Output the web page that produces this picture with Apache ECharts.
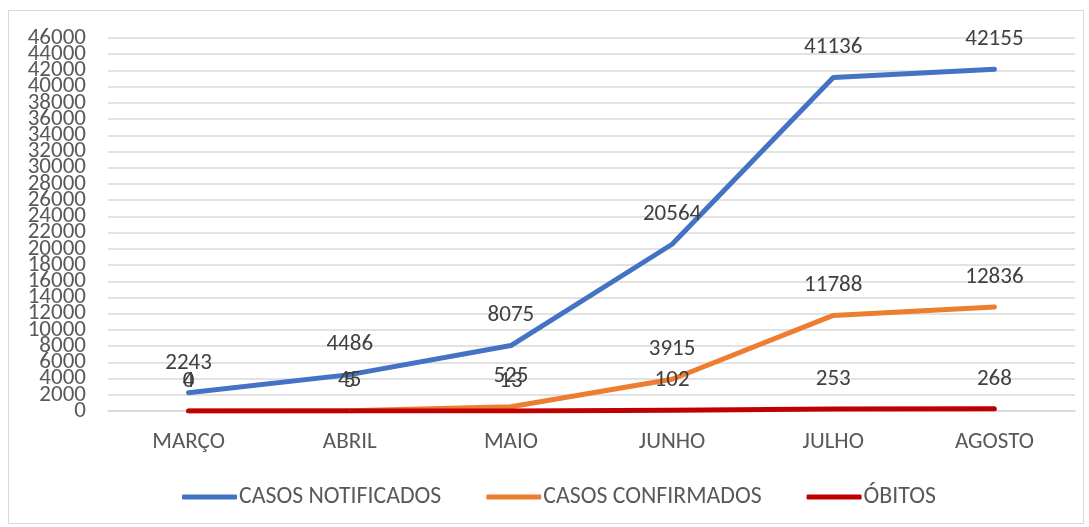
<!DOCTYPE html>
<html><head><meta charset="utf-8">
<script src="https://cdn.jsdelivr.net/npm/echarts@6/dist/echarts.min.js"></script>
<style>
html,body{margin:0;padding:0;background:#fff;}
#frame{position:absolute;left:8px;top:10px;width:1076px;height:514px;border:1px solid #d9d9d9;box-sizing:border-box;}
#c{position:absolute;left:0;top:0;width:1089px;height:527px;}
</style></head>
<body><div id="frame"></div><div id="c"></div>
<script>
const categories = ['MARÇO','ABRIL','MAIO','JUNHO','JULHO','AGOSTO'];
const notificados = [2243, 4486, 8075, 20564, 41136, 42155];
const confirmados = [4, 45, 525, 3915, 11788, 12836];
const obitos = [0, 5, 13, 102, 253, 268];
const seriesNames = ['CASOS NOTIFICADOS','CASOS CONFIRMADOS','ÓBITOS'];
const yMin = 0, yMax = 46000, yStep = 2000;

const FONT = "Carlito, 'Liberation Sans Narrow', 'Liberation Sans', sans-serif";
const chart = echarts.init(document.getElementById('c'));
function mk(name, data, color){
  return {
    name, type:'line', data, yAxisIndex:0, symbol:'circle', symbolSize:1, showSymbol:true,
    lineStyle:{color, width:5, cap:'round', join:'round'},
    itemStyle:{color},
    label:{show:true, position:'top', distance:18, color:'#404040', fontSize:23, fontFamily:FONT},
    emphasis:{disabled:true}
  };
}
const yLabelStyle = {color:'#595959', fontSize:23, fontFamily:FONT, margin:22, hideOverlap:false};
chart.setOption({
  animation:false,
  grid:{left:108, right:14, top:38, bottom:116},
  legend:{
    bottom:13, left:177, itemWidth:55, itemHeight:5, itemGap:45,
    icon:'roundRect',
    textStyle:{color:'#595959', fontSize:23.8, fontFamily:FONT, padding:[0,0,0,-3]},
    data:seriesNames
  },
  xAxis:{
    type:'category', data:categories, boundaryGap:true,
    axisLine:{show:true, lineStyle:{color:'#d9d9d9', width:1.5}},
    axisTick:{show:false},
    axisLabel:{color:'#595959', fontSize:23, fontFamily:FONT, margin:20}
  },
  yAxis:[{
    type:'value', position:'left', min:yMin, max:yMax, interval:yStep,
    axisLine:{show:false}, axisTick:{show:false},
    splitLine:{lineStyle:{color:'#d9d9d9', width:1.5}},
    axisLabel:Object.assign({}, yLabelStyle, {showMinLabel:false, showMaxLabel:false,
      formatter:function(v){return String(v);}})
  },{
    type:'value', position:'left', offset:0, min:yMin, max:yMax, interval:yStep,
    axisLine:{show:false}, axisTick:{show:false}, splitLine:{show:false},
    axisLabel:Object.assign({}, yLabelStyle, {showMinLabel:true, showMaxLabel:true,
      formatter:function(v){return (v === yMin || v === yMax) ? String(v) : '';}})
  }],
  series:[
    mk(seriesNames[0], notificados, '#4472C4'),
    mk(seriesNames[1], confirmados, '#ED7D31'),
    mk(seriesNames[2], obitos, '#C00000')
  ]
});
</script></body></html>
